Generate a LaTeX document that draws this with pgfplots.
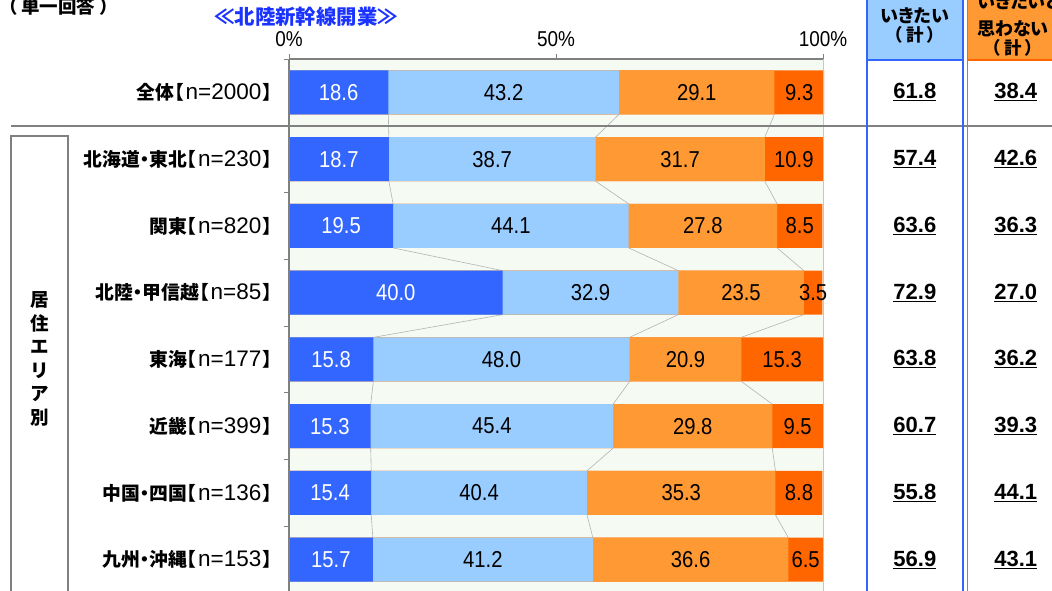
\documentclass[border=0pt]{standalone}
\usepackage{pgfplots}
\pgfplotsset{compat=1.18}
\usepackage{pgfplotstable}
\usepackage{fontspec}
\setmainfont{Liberation Sans}
\newfontfamily\jp{Noto Sans CJK JP}[RawFeature=+palt]
\newfontfamily\jpf{Noto Sans CJK JP}
\newfontfamily\nar{Liberation Sans}[FakeStretch=0.88]

\definecolor{cA}{HTML}{3366FF}
\definecolor{cB}{HTML}{99CCFF}
\definecolor{cC}{HTML}{FF9933}
\definecolor{cD}{HTML}{FF6600}
\definecolor{bg}{HTML}{F5FAF3}
\definecolor{ttl}{HTML}{1A33FF}
\definecolor{axg}{HTML}{808080}
\definecolor{lnk}{HTML}{B4B4B4}

% row, the four answers (%), and the two totals
\pgfplotstableread{
row a b c d yes no
0 18.6 43.2 29.1 9.3 61.8 38.4
1 18.7 38.7 31.7 10.9 57.4 42.6
2 19.5 44.1 27.8 8.5 63.6 36.3
3 40.0 32.9 23.5 3.5 72.9 27.0
4 15.8 48.0 20.9 15.3 63.8 36.2
5 15.3 45.4 29.8 9.5 60.7 39.3
6 15.4 40.4 35.3 8.8 55.8 44.1
7 15.7 41.2 36.6 6.5 56.9 43.1
}\data

% running totals, segment middles, and the step to the next row
\pgfplotstablecreatecol[create col/expr={\thisrow{a}}]{ca}\data
\pgfplotstablecreatecol[create col/expr={\thisrow{a}+\thisrow{b}}]{cb}\data
\pgfplotstablecreatecol[create col/expr={\thisrow{cb}+\thisrow{c}}]{cc}\data
\pgfplotstablecreatecol[create col/expr={\thisrow{cc}+\thisrow{d}}]{cd}\data
\pgfplotstablecreatecol[create col/expr={\thisrow{a}/2}]{ma}\data
\pgfplotstablecreatecol[create col/expr={\thisrow{ca}+\thisrow{b}/2}]{mb}\data
\pgfplotstablecreatecol[create col/expr={\thisrow{cb}+\thisrow{c}/2}]{mc}\data
\pgfplotstablecreatecol[create col/expr={\thisrow{cc}+\thisrow{d}/2}]{md}\data
\pgfplotstablecreatecol[create col/expr={\nextrow{ca}-\thisrow{ca}}]{na}\data
\pgfplotstablecreatecol[create col/expr={\nextrow{cb}-\thisrow{cb}}]{nb}\data
\pgfplotstablecreatecol[create col/expr={\nextrow{cc}-\thisrow{cc}}]{nc}\data

\newcommand\rowlab[2]{{\jp\bfseries #1【}\hspace{2pt}{\fontsize{22.5}{24}\selectfont n=#2}\hspace{2pt}{\jp\bfseries 】}}
\tikzset{rl/.style={anchor=east, xshift=-16pt, inner sep=0pt, font=\fontsize{18.8}{22}\selectfont}}

\begin{document}
\begin{tikzpicture}
\useasboundingbox (0,0) rectangle (1052pt,-591pt);
\clip (0,0) rectangle (1052pt,-591pt);

\begin{axis}[
  at={(289pt,-593pt)}, anchor=south west,
  width=534pt, height=534pt, scale only axis,
  xmin=0, xmax=100, ymin=-0.5, ymax=7.5, y dir=reverse,
  clip=false, axis on top,
  axis background/.style={fill=bg},
  axis x line*=top, axis y line*=left,
  axis line style={draw=axg, line width=1.3pt, -},
  xtick={0,50,100}, xticklabels={0\%,50\%,100\%},
  xticklabel style={font=\fontsize{21.5}{24}\selectfont\nar, yshift=4pt},
  ytick={-0.5,0.5,...,7.5}, yticklabels={},
  tick align=outside, major tick length=5pt,
  tick style={draw=axg, line width=1pt},
]
% series lines between the bars
\addplot[quiver={u=\thisrow{na}, v=0.34}, draw=lnk, line width=0.6pt, no markers,
  skip coords between index={7}{8}] table[x=ca, y expr=\thisrow{row}+0.33] \data;
\addplot[quiver={u=\thisrow{nb}, v=0.34}, draw=lnk, line width=0.6pt, no markers,
  skip coords between index={7}{8}] table[x=cb, y expr=\thisrow{row}+0.33] \data;
\addplot[quiver={u=\thisrow{nc}, v=0.34}, draw=lnk, line width=0.6pt, no markers,
  skip coords between index={7}{8}] table[x=cc, y expr=\thisrow{row}+0.33] \data;

% bars, longest first
\addplot[xbar, bar width=0.66, bar shift=0pt, fill=cD, draw=none] table[x=cd, y=row] \data;
\addplot[xbar, bar width=0.66, bar shift=0pt, fill=cC, draw=none] table[x=cc, y=row] \data;
\addplot[xbar, bar width=0.66, bar shift=0pt, fill=cB, draw=none] table[x=cb, y=row] \data;
\addplot[xbar, bar width=0.66, bar shift=0pt, fill=cA, draw=none] table[x=ca, y=row] \data;

% value labels
\pgfplotsset{every node near coord/.append style={anchor=center, font=\fontsize{23}{26}\selectfont\nar}}
\addplot[draw=none, mark=none, nodes near coords, point meta=explicit symbolic,
  every node near coord/.append style={text=white}] table[x=ma, y=row, meta=a] \data;
\addplot[draw=none, mark=none, nodes near coords, point meta=explicit symbolic] table[x=mb, y=row, meta=b] \data;
\addplot[draw=none, mark=none, nodes near coords, point meta=explicit symbolic] table[x=mc, y=row, meta=c] \data;
\addplot[draw=none, mark=none, nodes near coords, point meta=explicit symbolic] table[x=md, y=row, meta=d] \data;

% totals columns
\addplot[draw=none, mark=none, nodes near coords={\underline{\pgfplotspointmeta}}, point meta=explicit symbolic,
  every node near coord/.append style={font=\fontsize{22}{26}\selectfont\bfseries}]
  table[x expr=117.2, y=row, meta=yes] \data;
\addplot[draw=none, mark=none, nodes near coords={\underline{\pgfplotspointmeta}}, point meta=explicit symbolic,
  every node near coord/.append style={font=\fontsize{22}{26}\selectfont\bfseries}]
  table[x expr=136.1, y=row, meta=no] \data;

\draw[draw=black!22, line width=0.8pt] (rel axis cs:1,0) -- (rel axis cs:1,1);

\node[rl] at (axis cs:0,0) {\rowlab{全体}{2000}};
\node[rl] at (axis cs:0,1) {\rowlab{北海道・東北}{230}};
\node[rl] at (axis cs:0,2) {\rowlab{関東}{820}};
\node[rl] at (axis cs:0,3) {\rowlab{北陸・甲信越}{85}};
\node[rl] at (axis cs:0,4) {\rowlab{東海}{177}};
\node[rl] at (axis cs:0,5) {\rowlab{近畿}{399}};
\node[rl] at (axis cs:0,6) {\rowlab{中国・四国}{136}};
\node[rl] at (axis cs:0,7) {\rowlab{九州・沖縄}{153}};
\end{axis}

% separator under the total row
\draw[axg, line width=1.8pt] (11pt,-126pt) -- (1060pt,-126pt);

% side box
\draw[axg, line width=1.3pt] (11pt,-600pt) -- (11pt,-136pt) -- (68pt,-136pt) -- (68pt,-600pt);
\node[align=center, inner sep=0pt, font=\jpf\bfseries\fontsize{18.5}{23.6}\selectfont] at (40pt,-359pt)
  {居\\住\\エ\\リ\\ア\\別};

% totals headers
\fill[cB] (867pt,2pt) rectangle (963pt,-60pt);
\fill[cC] (967.7pt,2pt) rectangle (1060pt,-60pt);
\draw[cA, line width=1.5pt] (867pt,2pt) -- (867pt,-600pt);
\draw[cA, line width=1.5pt] (963pt,2pt) -- (963pt,-600pt);
\draw[cA, line width=1.5pt] (867pt,-60pt) -- (963pt,-60pt);
\draw[cD, line width=1.5pt] (967.7pt,2pt) -- (967.7pt,-600pt);
\draw[cD, line width=1.5pt] (967.7pt,-60pt) -- (1060pt,-60pt);
\node[font=\jp\bfseries\fontsize{18}{20}\selectfont, inner sep=0pt] at (915pt,-16pt) {いきたい};
\node[font=\jpf\bfseries\fontsize{17.5}{20}\selectfont, inner sep=0pt] at (915pt,-35pt) {（\hspace{3pt}計\hspace{3pt}）};
\node[font=\jp\bfseries\fontsize{18}{20}\selectfont, inner sep=0pt] at (1019pt,-2pt) {いきたいと};
\node[font=\jp\bfseries\fontsize{18}{20}\selectfont, inner sep=0pt] at (1013pt,-28.5pt) {思わない};
\node[font=\jpf\bfseries\fontsize{17.5}{20}\selectfont, inner sep=0pt] at (1013pt,-48pt) {（\hspace{3pt}計\hspace{3pt}）};

% titles
\node[font=\jpf\bfseries\fontsize{20.4}{22}\selectfont, text=ttl, inner sep=0pt] at (306pt,-16.5pt) {≪北陸新幹線開業≫};
\node[font=\jpf\bfseries\fontsize{18.5}{20}\selectfont, inner sep=0pt] at (58.5pt,-6.5pt) {（\hspace{4pt}単一回答\hspace{4pt}）};
\end{tikzpicture}
\end{document}
